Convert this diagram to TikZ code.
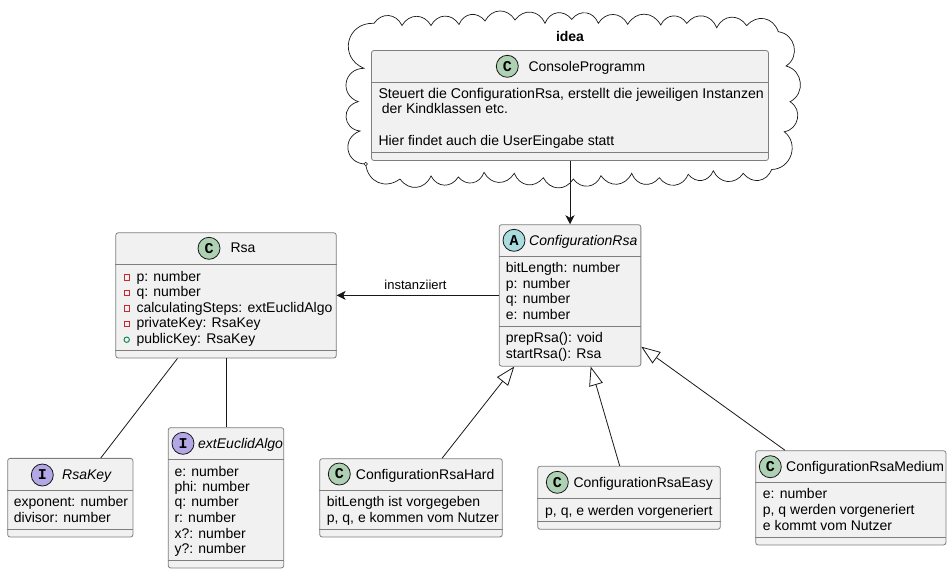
\documentclass[tikz,border=0pt]{standalone}
\usepackage{fontspec}
\setmainfont{Liberation Sans}
\newfontfamily\badgefont{Liberation Mono}
\usetikzlibrary{arrows.meta}
\definecolor{linecol}{HTML}{181818}
\definecolor{boxline}{HTML}{7E7E7E}
\definecolor{boxfill}{HTML}{F1F1F1}
\definecolor{classcol}{HTML}{ADD1B2}
\definecolor{abstractcol}{HTML}{A9DCDF}
\definecolor{ifacecol}{HTML}{B4A7E5}
\definecolor{privcol}{HTML}{C82930}
\definecolor{pubcol}{HTML}{038048}
\begin{document}
\begin{tikzpicture}[x=1pt, y=-1pt, >={Stealth[length=9pt,width=9pt,inset=2.5pt]},
	classbox/.style={draw=boxline, line width=0.8pt, fill=boxfill, rounded corners=2.5pt, inner sep=0pt},
	sepline/.style={draw=boxline, line width=0.8pt},
	badge/.style={circle, draw=linecol, line width=0.8pt, minimum size=22pt, inner sep=0pt, font=\badgefont\bfseries\fontsize{15}{15}\selectfont},
	rowtext/.style={anchor=base west, inner sep=0pt, font=\fontsize{14}{14}\selectfont},
	titletext/.style={rowtext},
	abstracttext/.style={rowtext, font=\fontsize{14}{14}\selectfont\itshape},
	link/.style={draw=linecol, line width=0.8pt},
	inherit/.style={link, -{Triangle[open,length=19pt,width=14pt]}},
	privicon/.style={draw=privcol, line width=0.9pt},
	pubicon/.style={draw=pubcol, line width=0.9pt},
	bump/.style={bend left=60, looseness=1.25},
	medbump/.style={bend left=70, looseness=1.25},
	bigbump/.style={bend left=80, looseness=1.55}]
	\useasboundingbox (0,0) rectangle (952,574);

	% 1. Wolke um das Paket
	\draw[linecol, line width=0.7pt] (374,23.3) to[bump] (402,25.5) to[bump] (431,25.5) to[bump] (459,24.5)
		to[bump] (485,21) to[bump] (515,20) to[bump] (545,23.3) to[bump] (571.7,19.3) to[bump] (598.3,23.3)
		to[bump] (627.7,24.3) to[bump] (660.7,25) to[bump] (686.7,23.3) to[bump] (716.7,27.7) to[bump] (746.7,25.7)
		to[bump] (778.3,31.7)
		to[medbump] (786,66) to[medbump] (790,101.7) to[medbump] (784.3,131.7) to[medbump] (771.7,169.5)
		to[bump] (743.3,173.3) to[bump] (713.3,170.7) to[bump] (688.3,174.3) to[bump] (659.3,177.7) to[bump] (631.7,173.3)
		to[bump] (601,175.7) to[bump] (573.3,179) to[bump] (543.3,177.7) to[bump] (514.3,173.3) to[bump] (484,172.3)
		to[bump] (458.3,177) to[bump] (431,176) to[bump] (400,179) to[bump] (365.7,164)
		to[bigbump] (360,131) to[bigbump] (358.3,101.7) to[bigbump] (364,68.3) to[bigbump] (374,23.3);
	\draw[linecol, line width=0.5pt, fill=white] (365.7,164) circle (1.8);
	\node[inner sep=0pt, anchor=base, font=\fontsize{14}{14}\selectfont\bfseries] (idea) at (570,41.7) {idea};

	% 2. ConsoleProgramm
	\node[classbox, minimum width=397pt, minimum height=110pt] (console) at (570,105.5) {};
	\draw[sepline] (console.west |- 0,82.3) -- (console.east |- 0,82.3);
	\draw[sepline] (console.west |- 0,152.3) -- (console.east |- 0,152.3);
	\node[badge, fill=classcol] (consolebadge) at (507.3,66.3) {C};
	\node[titletext] (consoletitle) at (528.3,71) {ConsoleProgramm};
	\node[rowtext, font=\fontsize{14.15}{14}\selectfont] (consolerow1) at (378.3,98.7) {Steuert die ConfigurationRsa, erstellt die jeweiligen Instanzen};
	\node[rowtext] (consolerow2) at (381.7,113.7) {der Kindklassen etc.};
	\node[rowtext] (consolerow3) at (378.3,145.3) {Hier findet auch die UserEingabe statt};

	% 3. Rsa
	\node[classbox, minimum width=220.5pt, minimum height=125.3pt] (rsa) at (226,295.4) {};
	\draw[sepline] (rsa.west |- 0,264.3) -- (rsa.east |- 0,264.3);
	\draw[sepline] (rsa.west |- 0,350.3) -- (rsa.east |- 0,350.3);
	\node[badge, fill=classcol] (rsabadge) at (209,248.3) {C};
	\node[titletext] (rsatitle) at (230.3,252.7) {Rsa};
	\foreach \i/\y/\t in {1/281/p: number, 2/296.3/q: number, 3/312/calculatingSteps: extEuclidAlgo, 4/327.3/privateKey: RsaKey, 5/343/publicKey: RsaKey}
		\node[rowtext] (rsarow\i) at (136.3,\y) {\t};
	\foreach \y in {277.3,292.7,308.3,323.7}
		\draw[privicon] (124,\y-2.7) rectangle (129.4,\y+2.7);
	\draw[pubicon] (126.7,339.7) circle (2.7);

	% 4. ConfigurationRsa
	\node[classbox, minimum width=141.7pt, minimum height=141.5pt] (config) at (570,295.4) {};
	\draw[sepline] (config.west |- 0,256.3) -- (config.east |- 0,256.3);
	\draw[sepline] (config.west |- 0,326.3) -- (config.east |- 0,326.3);
	\node[badge, fill=abstractcol] (configbadge) at (514,240.3) {A};
	\node[abstracttext] (configtitle) at (529,245) {ConfigurationRsa};
	\foreach \i/\y/\t in {1/272.7/bitLength: number, 2/288/p: number, 3/303.7/q: number, 4/319.3/e: number, 5/342.7/prepRsa(): void, 6/358.7/startRsa(): Rsa}
		\node[rowtext] (configrow\i) at (505.7,\y) {\t};

	% 5. RsaKey
	\node[classbox, minimum width=125.3pt, minimum height=78.7pt] (rsakey) at (70.3,497.7) {};
	\draw[sepline] (rsakey.west |- 0,490.3) -- (rsakey.east |- 0,490.3);
	\draw[sepline] (rsakey.west |- 0,529.3) -- (rsakey.east |- 0,529.3);
	\node[badge, fill=ifacecol] (rsakeybadge) at (42.3,475) {I};
	\node[abstracttext] (rsakeytitle) at (62,479.3) {RsaKey};
	\node[rowtext] (rsakeyrow1) at (13.7,506.7) {exponent: number};
	\node[rowtext] (rsakeyrow2) at (13.7,522.7) {divisor: number};

	% 6. extEuclidAlgo
	\node[classbox, minimum width=115.6pt, minimum height=140.3pt] (euclid) at (226,497.8) {};
	\draw[sepline] (euclid.west |- 0,459.3) -- (euclid.east |- 0,459.3);
	\draw[sepline] (euclid.west |- 0,560.3) -- (euclid.east |- 0,560.3);
	\node[badge, fill=ifacecol] (euclidbadge) at (183,443.3) {I};
	\node[abstracttext] (euclidtitle) at (198,448.3) {extEuclidAlgo};
	\foreach \i/\y/\t in {1/476/e: number, 2/491.3/phi: number, 3/506.7/q: number, 4/522.7/r: number, 5/538/x?: number, 6/553.7/y?: number}
		\node[rowtext] (euclidrow\i) at (174.3,\y) {\t};

	% 7. Kindklassen
	\node[classbox, minimum width=182.6pt, minimum height=78.3pt] (hard) at (411,497.8) {};
	\draw[sepline] (hard.west |- 0,490.3) -- (hard.east |- 0,490.3);
	\draw[sepline] (hard.west |- 0,529.3) -- (hard.east |- 0,529.3);
	\node[badge, fill=classcol] (hardbadge) at (339.3,474) {C};
	\node[titletext] (hardtitle) at (355.7,479.3) {ConfigurationRsaHard};
	\node[rowtext] (hardrow1) at (326.7,506.7) {bitLength ist vorgegeben};
	\node[rowtext] (hardrow2) at (326.7,522.7) {p, q, e kommen vom Nutzer};

	\node[classbox, minimum width=182.6pt, minimum height=63pt] (easy) at (629,497.8) {};
	\draw[sepline] (easy.west |- 0,498.3) -- (easy.east |- 0,498.3);
	\draw[sepline] (easy.west |- 0,521.3) -- (easy.east |- 0,521.3);
	\node[badge, fill=classcol] (easybadge) at (557.3,482.3) {C};
	\node[titletext] (easytitle) at (573.3,487.3) {ConfigurationRsaEasy};
	\node[rowtext] (easyrow1) at (545,515) {p, q, e werden vorgeneriert};

	\node[classbox, minimum width=190.3pt, minimum height=94.3pt] (medium) at (850.8,497.8) {};
	\draw[sepline] (medium.west |- 0,482.3) -- (medium.east |- 0,482.3);
	\draw[sepline] (medium.west |- 0,537.3) -- (medium.east |- 0,537.3);
	\node[badge, fill=classcol] (mediumbadge) at (770.3,466.7) {C};
	\node[titletext] (mediumtitle) at (786,471) {ConfigurationRsaMedium};
	\node[rowtext] (mediumrow1) at (762.7,498.7) {e: number};
	\node[rowtext] (mediumrow2) at (762.7,514.3) {p, q werden vorgeneriert};
	\node[rowtext] (mediumrow3) at (762.7,530.7) {e kommt vom Nutzer};

	% 8. Verbindungen
	\draw[link, ->] (console) -- (config);
	\draw[link, ->] (config) -- (rsa);
	\node[inner sep=0pt, anchor=base, font=\fontsize{13}{13}\selectfont] (instlabel) at (415.5,289) {instanziiert};
	\draw[link] (rsa) -- (rsakey);
	\draw[link] (rsa) -- (euclid);
	\draw[inherit] (hard) -- (config);
	\draw[inherit] (easy) -- (config);
	\draw[inherit] (medium) -- (config);
\end{tikzpicture}
\end{document}
